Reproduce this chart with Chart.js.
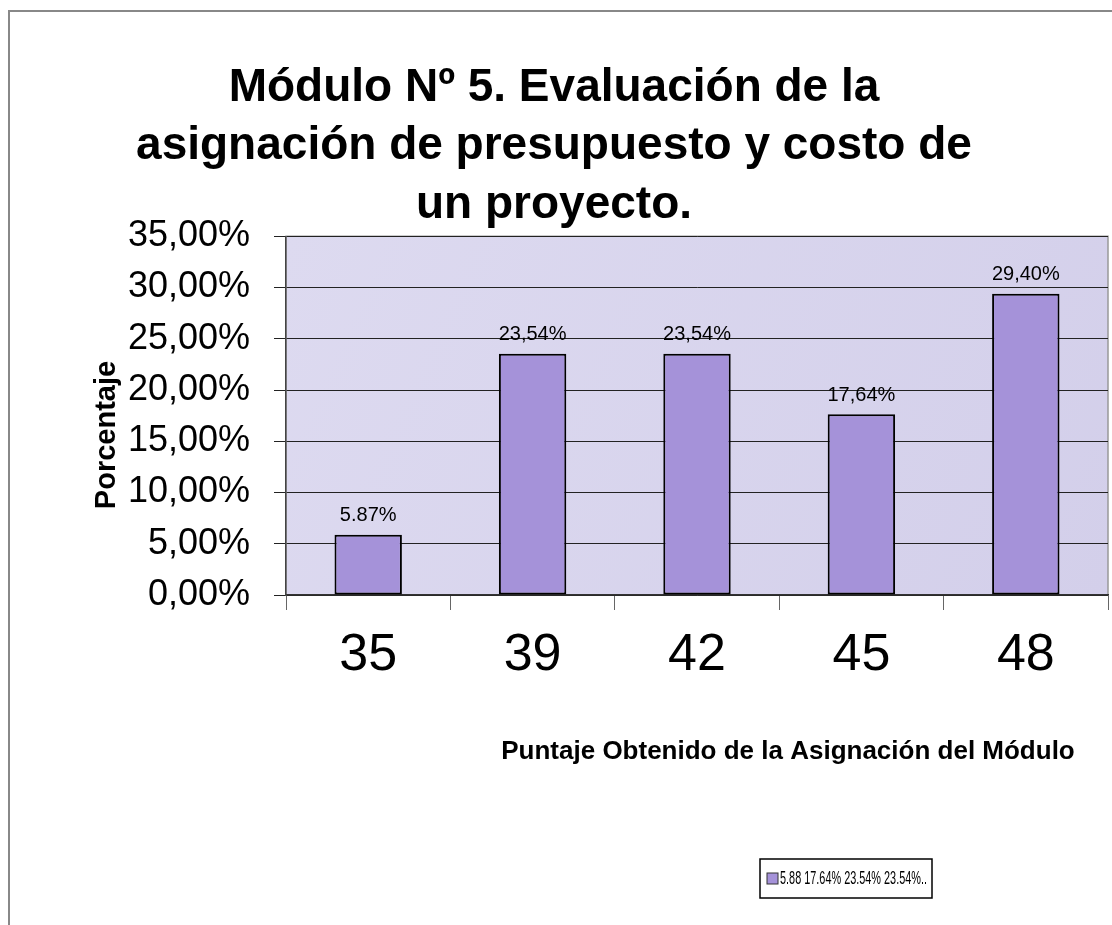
<!DOCTYPE html>
<html>
<head>
<meta charset="utf-8">
<script src="https://cdn.jsdelivr.net/npm/chart.js@4"></script>
<style>
  html, body { margin: 0; padding: 0; background: #fff; }
</style>
</head>
<body>
<canvas id="bar-chart" width="1112" height="925"></canvas>
<script>
// chart data
const categories = ["35", "39", "42", "45", "48"]
const percentages = [5.87, 23.54, 23.54, 17.64, 29.40]
const valueLabels = ["5.87%", "23,54%", "23,54%", "17,64%", "29,40%"]
const titleLines = ["Módulo Nº 5. Evaluación de la", "asignación de presupuesto y costo de", "un proyecto."]
const xTitle = "Puntaje Obtenido de la Asignación del Módulo"
const yTitle = "Porcentaje"
const legendText = "5.88 17.64% 23.54% 23.54%.."

const FONT = "'Liberation Sans', Arial, sans-serif"
const NARROW = "'Liberation Sans Narrow', 'Liberation Sans', Arial, sans-serif"
const BAR_COLOR = "#a592d9"

// background, frame, labels, titles and legend
const decorations = {
  id: "decorations",
  beforeDraw(chart) {
    const ctx = chart.ctx
    const a = chart.chartArea
    ctx.save()
    ctx.fillStyle = "#fff"
    ctx.fillRect(0, 0, chart.width, chart.height)
    // outer frame
    ctx.strokeStyle = "#888"
    ctx.lineWidth = 2
    ctx.beginPath()
    ctx.moveTo(9, chart.height)
    ctx.lineTo(9, 11)
    ctx.lineTo(chart.width, 11)
    ctx.stroke()
    // plot area
    let grad = ctx.createLinearGradient(a.left, a.top, a.right, a.bottom)
    grad.addColorStop(0, "#dddaf0")
    grad.addColorStop(1, "#d3cfea")
    ctx.fillStyle = grad
    ctx.fillRect(a.left, a.top, a.right - a.left, a.bottom - a.top)
    ctx.strokeStyle = "#999"
    ctx.lineWidth = 1.5
    ctx.strokeRect(a.left, a.top, a.right - a.left, a.bottom - a.top)
    ctx.restore()
  },
  afterDatasetsDraw(chart) {
    const ctx = chart.ctx
    const meta = chart.getDatasetMeta(0)
    ctx.save()
    ctx.fillStyle = "#000"
    ctx.font = "20px " + FONT
    ctx.textAlign = "center"
    ctx.textBaseline = "bottom"
    meta.data.forEach(function (bar, i) {
      ctx.fillText(valueLabels[i], bar.x, bar.y - 9)
    })
    ctx.restore()
  },
  afterDraw(chart) {
    const ctx = chart.ctx
    ctx.save()
    ctx.fillStyle = "#000"
    ctx.font = "bold 26px " + FONT
    ctx.textAlign = "center"
    ctx.textBaseline = "middle"
    ctx.fillText(xTitle, 788, 752)
    ctx.font = "bold 29px " + FONT
    ctx.translate(107, 435)
    ctx.rotate(-Math.PI / 2)
    ctx.fillText(yTitle, 0, 0)
    ctx.restore()

    // legend box
    ctx.save()
    ctx.strokeStyle = "#000"
    ctx.lineWidth = 1.5
    ctx.strokeRect(760, 859, 172, 39)
    ctx.fillStyle = BAR_COLOR
    ctx.fillRect(767, 873, 11, 11)
    ctx.strokeStyle = "#333"
    ctx.lineWidth = 1
    ctx.strokeRect(767, 873, 11, 11)
    ctx.fillStyle = "#000"
    ctx.font = "19px " + NARROW
    ctx.textBaseline = "middle"
    ctx.fillText(legendText, 780, 879, 147)
    ctx.restore()
  },
}

let ctxBar = document.getElementById("bar-chart").getContext("2d")
let barChart = new Chart(ctxBar, {
  type: "bar",
  data: {
    labels: categories,
    datasets: [
      {
        label: legendText,
        data: percentages,
        backgroundColor: BAR_COLOR,
        borderColor: "#000",
        borderWidth: 2,
        borderSkipped: false,
        categoryPercentage: 1,
        barPercentage: 0.41,
      },
    ],
  },
  options: {
    responsive: false,
    animation: false,
    layout: {
      padding: { left: 0, right: 4, top: 0, bottom: 0 },
    },
    plugins: {
      legend: { display: false },
      tooltip: { enabled: false },
      title: {
        display: true,
        text: titleLines,
        color: "#000",
        font: { family: FONT, size: 46, weight: "bold", lineHeight: 1.27 },
        padding: { top: 59, bottom: 2 },
      },
    },
    scales: {
      x: {
        grid: {
          display: true,
          drawOnChartArea: false,
          offset: true,
          tickLength: 15,
          color: "#666",
        },
        border: { color: "#333", width: 1.5 },
        ticks: {
          color: "#000",
          padding: 14,
          font: { family: FONT, size: 52 },
        },
        afterFit(scale) {
          scale.height = 330
        },
      },
      y: {
        min: 0,
        max: 35,
        ticks: {
          stepSize: 5,
          color: "#000",
          padding: 24,
          font: { family: FONT, size: 36 },
          callback: function (value) {
            return value.toFixed(2).replace(".", ",") + "%"
          },
        },
        grid: {
          color: "#222",
          lineWidth: 1,
          tickLength: 12,
        },
        border: { color: "#444", width: 1.5 },
        afterFit(scale) {
          scale.width = 286
        },
      },
    },
  },
  plugins: [decorations],
})
</script>
</body>
</html>
